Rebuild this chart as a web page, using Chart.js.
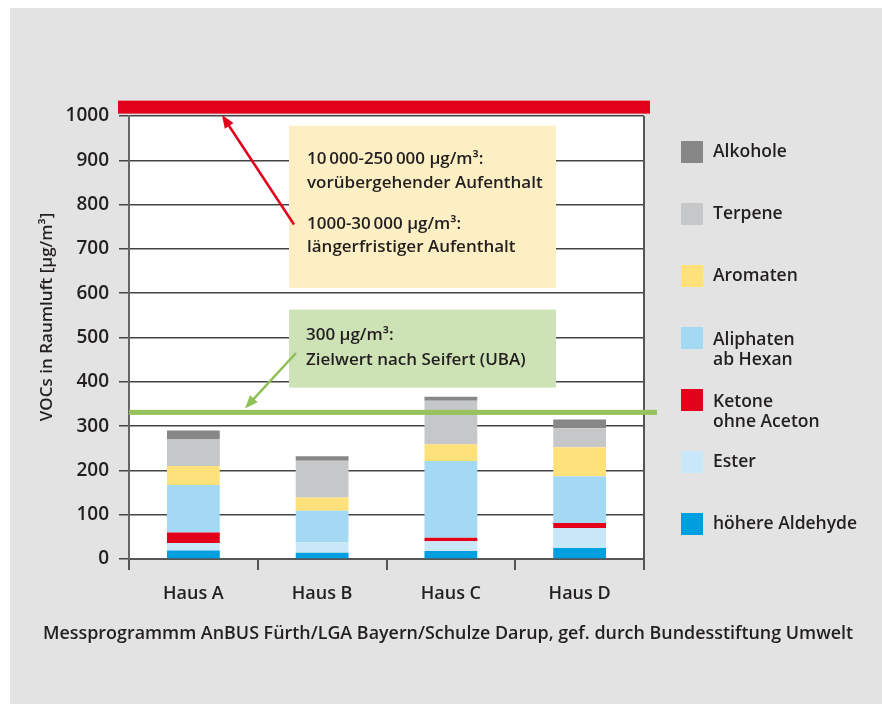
<!DOCTYPE html>
<html lang="de">
<head>
<meta charset="utf-8">
<title>VOCs in Raumluft</title>
<script src="https://cdn.jsdelivr.net/npm/chart.js@4.4.1/dist/chart.umd.min.js"></script>
<style>
    html, body { margin: 0; padding: 0; background: #fff; }
    #cadre { position: absolute; left: 10px; top: 8px; width: 872px; height: 696px; background: #e2e3e2; }
</style>
</head>
<body>
<div id="cadre"><canvas id="voc-chart" width="872" height="696"></canvas></div>
<script>
"use strict";

// Daten
const haeuser = ['Haus A', 'Haus B', 'Haus C', 'Haus D'];
const aldehyde = [19, 14, 18, 25];
const ester = [17, 23, 22, 45];
const ketone = [24, 0, 8, 11];
const aliphaten = [107, 72, 173, 106];
const aromaten = [43, 30, 38, 65];
const terpene = [60, 83, 98, 43];
const alkohole = [20, 10, 9, 20];
const yTicks = [0, 100, 200, 300, 400, 500, 600, 700, 800, 900, 1000];

// Richtwerte
const linieRot = 1020;   // rote Linie oberhalb der Skala
const linieGruen = 331;  // Zielwert-Linie

const FONT = "'Open Sans', 'Liberation Sans', sans-serif";
const TEXT = '#231f20';

/**
 * Weißer Hintergrund der Zeichenfläche
 */
const hintergrund = {
    id: 'hintergrund',
    beforeDraw(chart) {
        const {ctx, chartArea: {left, top, width, height}} = chart;
        ctx.save();
        ctx.fillStyle = '#ffffff';
        ctx.fillRect(left, top, width, height);
        ctx.restore();
    }
};

function pfeil(ctx, x1, y1, x2, y2, farbe) {
    const winkel = Math.atan2(y2 - y1, x2 - x1);
    const laenge = 14;
    ctx.save();
    ctx.strokeStyle = farbe;
    ctx.fillStyle = farbe;
    ctx.lineWidth = 2.5;
    ctx.beginPath();
    ctx.moveTo(x1, y1);
    ctx.lineTo(x2 - Math.cos(winkel) * laenge * 0.8, y2 - Math.sin(winkel) * laenge * 0.8);
    ctx.stroke();
    ctx.beginPath();
    ctx.moveTo(x2, y2);
    ctx.lineTo(x2 - laenge * Math.cos(winkel - 0.38), y2 - laenge * Math.sin(winkel - 0.38));
    ctx.lineTo(x2 - laenge * Math.cos(winkel + 0.38), y2 - laenge * Math.sin(winkel + 0.38));
    ctx.closePath();
    ctx.fill();
    ctx.restore();
}

function texte(ctx, zeilen, x, y0, abstand) {
    zeilen.forEach((z, i) => {
        ctx.fillText(z, x, y0 + i * abstand);
    });
}

/**
 * Richtwerte: Linien, Kästen, Pfeile
 */
const richtwerte = {
    id: 'richtwerte',
    afterDatasetsDraw(chart) {
        const {ctx, chartArea: {left, right}, scales: {y}} = chart;
        ctx.save();

        // rechter Rahmen
        ctx.strokeStyle = '#555';
        ctx.lineWidth = 2;
        ctx.beginPath();
        ctx.moveTo(right, y.getPixelForValue(1000));
        ctx.lineTo(right, y.getPixelForValue(0) + 11);
        ctx.stroke();

        // gelber Kasten
        ctx.fillStyle = '#fdefc4';
        const gTop = y.getPixelForValue(978), gBot = y.getPixelForValue(612);
        ctx.fillRect(left + 160, gTop, 267, gBot - gTop);

        // grüner Kasten
        ctx.fillStyle = '#cde2b5';
        const kTop = y.getPixelForValue(563), kBot = y.getPixelForValue(387);
        ctx.fillRect(left + 160, kTop, 267, kBot - kTop);

        // rote Linie
        ctx.fillStyle = '#e2001a';
        const rY = y.getPixelForValue(linieRot);
        ctx.fillRect(left - 11, rY - 6.5, right - left + 17, 13);

        // grüne Linie
        ctx.fillStyle = '#95c25c';
        const gY = y.getPixelForValue(linieGruen);
        ctx.fillRect(left, gY - 2.5, right - left + 13, 5);

        // Texte
        ctx.fillStyle = TEXT;
        ctx.font = '600 17px ' + FONT;
        ctx.textAlign = 'left';
        ctx.textBaseline = 'middle';
        texte(ctx, ['10\u2009000-250\u2009000 \u03bcg/m\u00b3:', 'vorübergehender Aufenthalt'], left + 178, y.getPixelForValue(902), 24);
        texte(ctx, ['1000-30\u2009000 \u03bcg/m\u00b3:', 'längerfristiger Aufenthalt'], left + 178, y.getPixelForValue(755), 23);
        texte(ctx, ['300 \u03bcg/m\u00b3:', 'Zielwert nach Seifert (UBA)'], left + 177, y.getPixelForValue(505), 25);

        // Pfeile
        pfeil(ctx, left + 165, y.getPixelForValue(755), left + 93, y.getPixelForValue(1002), '#e2001a');
        pfeil(ctx, left + 167, y.getPixelForValue(465), left + 116, y.getPixelForValue(340), '#8fc157');

        ctx.restore();
    }
};

/**
 * Legende rechts und Beschriftungen außerhalb der Achsen
 */
const beschriftung = {
    id: 'beschriftung',
    afterDraw(chart, args, options) {
        const {ctx, chartArea: {right}} = chart;
        ctx.save();
        ctx.font = '600 17.5px ' + FONT;
        ctx.fillStyle = TEXT;
        ctx.textBaseline = 'middle';
        ctx.textAlign = 'left';

        const ds = chart.data.datasets.slice().reverse();
        ds.forEach((d, i) => {
            const cy = 144 + i * 62;
            ctx.fillStyle = d.backgroundColor;
            ctx.fillRect(right + 37, cy - 11, 22, 22);
            ctx.fillStyle = TEXT;
            const zeilen = options.zeilen[d.label] || [d.label];
            texte(ctx, zeilen, right + 69, cy + (zeilen.length > 1 ? 2 : 0), 20);
        });

        // Achsentitel
        ctx.save();
        ctx.translate(37, 309);
        ctx.rotate(-Math.PI / 2);
        ctx.textAlign = 'center';
        ctx.font = '600 17px ' + FONT;
        ctx.fillText('VOCs in Raumluft [\u03bcg/m\u00b3]', 0, 0);
        ctx.restore();

        // Quelle
        ctx.font = '600 17.9px ' + FONT;
        ctx.textAlign = 'left';
        ctx.fillText('Messprogrammm AnBUS Fürth/LGA Bayern/Schulze Darup, gef. durch Bundesstiftung Umwelt', 33, 626);
        ctx.restore();
    }
};

const ctx = document.getElementById('voc-chart');

const config = {
    type: 'bar',
    data: {
        labels: haeuser,
        datasets: [
            {label: 'höhere Aldehyde', data: aldehyde, backgroundColor: '#009fe0'},
            {label: 'Ester', data: ester, backgroundColor: '#c8e7f8'},
            {label: 'Ketone ohne Aceton', data: ketone, backgroundColor: '#e2001a'},
            {label: 'Aliphaten ab Hexan', data: aliphaten, backgroundColor: '#a3d9f3'},
            {label: 'Aromaten', data: aromaten, backgroundColor: '#ffe17c'},
            {label: 'Terpene', data: terpene, backgroundColor: '#c6c7c9'},
            {label: 'Alkohole', data: alkohole, backgroundColor: '#878788'}
        ]
    },
    options: {
        responsive: false,
        animation: false,
        datasets: {
            bar: {
                barPercentage: 0.41,
                categoryPercentage: 1,
                borderWidth: 0
            }
        },
        layout: {
            padding: {left: 0, right: 238, top: 108, bottom: 85}
        },
        plugins: {
            legend: {display: false},
            tooltip: {enabled: false},
            beschriftung: {
                zeilen: {
                    'Aliphaten ab Hexan': ['Aliphaten', 'ab Hexan'],
                    'Ketone ohne Aceton': ['Ketone', 'ohne Aceton']
                }
            }
        },
        scales: {
            x: {
                stacked: true,
                offset: true,
                afterFit(scale) { scale.height = 60; },
                border: {display: true, color: '#555', width: 2},
                grid: {
                    offset: true,
                    drawOnChartArea: false,
                    tickLength: 11,
                    color: '#555',
                    lineWidth: 2
                },
                ticks: {
                    color: TEXT,
                    font: {family: FONT, size: 18, weight: '600'},
                    padding: 13
                }
            },
            y: {
                stacked: true,
                min: 0,
                max: 1000,
                afterFit(scale) { scale.width = 119; },
                afterBuildTicks(scale) {
                    scale.ticks = yTicks.map(v => ({value: v}));
                },
                border: {display: true, color: '#666', width: 2},
                grid: {
                    color: '#444',
                    lineWidth: 1.5,
                    tickLength: 10
                },
                ticks: {
                    color: TEXT,
                    font: {family: FONT, size: 19, weight: '600'},
                    padding: 10,
                    callback: value => String(value)
                }
            }
        }
    },
    plugins: [hintergrund, richtwerte, beschriftung]
};

new Chart(ctx, config);
</script>
</body>
</html>
